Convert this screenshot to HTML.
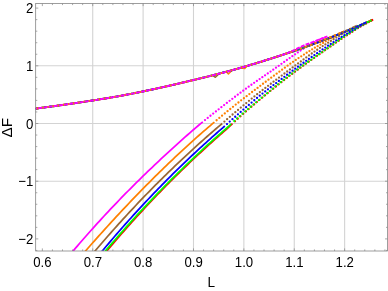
<!DOCTYPE html>
<html><head><meta charset="utf-8"><title>plot</title>
<style>html,body{margin:0;padding:0;background:#fff;overflow:hidden}body{width:388px;height:291px;position:relative;font-family:"Liberation Sans",sans-serif}svg{will-change:transform}</style></head>
<body>
<svg width="388" height="291" viewBox="0 0 388 291" style="position:absolute;left:0;top:0">
<rect width="388" height="291" fill="#fff"/>
<path d="M92.73,3.5 V251.0 M143.11,3.5 V251.0 M193.49,3.5 V251.0 M243.87,3.5 V251.0 M294.25,3.5 V251.0 M344.63,3.5 V251.0 M35.7,65.80 H387.6 M35.7,123.50 H387.6 M35.7,181.20 H387.6" stroke="#d3d3d3" stroke-width="1.1" fill="none"/>
<defs><clipPath id="c"><rect x="35.7" y="3.5" width="351.90000000000003" height="247.5"/></clipPath></defs>
<g clip-path="url(#c)" fill="none">
<path d="M98.60,260.72 L106.60,251.19 L108.73,248.65 L110.87,246.13 L113.00,243.62 L115.14,241.13 L117.27,238.65 L119.40,236.19 L121.54,233.74 L123.67,231.31 L125.81,228.89 L127.94,226.48 L130.07,224.09 L132.21,221.71 L134.34,219.35 L136.47,217.00 L138.61,214.67 L140.74,212.34 L142.88,210.04 L145.01,207.74 L147.14,205.46 L149.28,203.19 L151.41,200.94 L153.55,198.69 L155.68,196.47 L157.81,194.25 L159.95,192.05 L162.08,189.86 L164.22,187.68 L166.35,185.51 L168.48,183.36 L170.62,181.22 L172.75,179.09 L174.88,176.97 L177.02,174.87 L179.15,172.78 L181.29,170.70 L183.42,168.63 L185.55,166.57 L187.69,164.53 L189.82,162.49 L191.96,160.47 L194.09,158.46 L196.22,156.46 L198.36,154.47 L200.49,152.49 L202.63,150.52 L204.76,148.56 L206.89,146.62 L209.03,144.68 L211.16,142.76 L213.29,140.84 L215.43,138.94 L217.56,137.04 L219.70,135.16 L221.83,133.28 L223.96,131.42 L226.10,129.56 L228.23,127.70 L230.37,125.67 L232.50,123.65" stroke="#ff0000" stroke-width="1.75"/>
<path d="M235.00,121.30h0.01 M237.73,118.75h0.01 M240.46,116.29h0.01 M243.19,113.85h0.01 M245.92,111.45h0.01 M248.65,109.09h0.01 M251.38,106.74h0.01 M254.11,104.41h0.01 M256.84,102.09h0.01 M259.57,99.79h0.01 M262.30,97.53h0.01 M265.03,95.30h0.01 M267.76,93.08h0.01 M270.49,90.87h0.01 M273.22,88.67h0.01 M275.95,86.49h0.01 M278.68,84.32h0.01 M281.41,82.16h0.01 M284.14,80.01h0.01 M286.87,77.90h0.01 M289.60,75.82h0.01 M292.33,73.76h0.01 M295.06,71.70h0.01 M297.79,69.65h0.01 M300.52,67.63h0.01 M303.25,65.66h0.01 M305.98,63.70h0.01 M308.71,61.75h0.01 M311.44,59.82h0.01 M314.17,57.89h0.01 M316.90,55.97h0.01 M319.63,54.06h0.01 M322.36,52.13h0.01 M325.09,50.21h0.01 M327.82,48.30h0.01 M330.55,46.40h0.01 M333.28,44.50h0.01 M336.01,42.61h0.01 M338.74,40.73h0.01 M341.47,38.90h0.01 M344.20,37.10h0.01 M346.93,35.31h0.01 M349.66,33.52h0.01 M352.39,31.74h0.01 M355.12,29.97h0.01 M357.85,28.21h0.01 M360.58,26.50h0.01 M363.31,24.99h0.01 M366.04,23.49h0.01 M368.77,22.00h0.01 M371.50,20.51h0.01" stroke="#ff0000" stroke-width="2.3" stroke-linecap="round"/>
<path d="M97.50,260.35 L105.50,250.92 L107.63,248.42 L109.76,245.92 L111.90,243.44 L114.03,240.97 L116.16,238.52 L118.29,236.08 L120.43,233.65 L122.56,231.23 L124.69,228.83 L126.82,226.45 L128.95,224.07 L131.09,221.71 L133.22,219.36 L135.35,217.03 L137.48,214.71 L139.62,212.40 L141.75,210.10 L143.88,207.82 L146.01,205.55 L148.14,203.29 L150.28,201.04 L152.41,198.81 L154.54,196.58 L156.67,194.37 L158.81,192.18 L160.94,189.99 L163.07,187.82 L165.20,185.65 L167.33,183.50 L169.47,181.36 L171.60,179.24 L173.73,177.12 L175.86,175.02 L177.99,172.92 L180.13,170.84 L182.26,168.77 L184.39,166.71 L186.52,164.67 L188.66,162.63 L190.79,160.60 L192.92,158.59 L195.05,156.58 L197.18,154.59 L199.32,152.60 L201.45,150.63 L203.58,148.67 L205.71,146.72 L207.85,144.77 L209.98,142.84 L212.11,140.92 L214.24,139.01 L216.37,137.11 L218.51,135.22 L220.64,133.33 L222.77,131.46 L224.90,129.60 L227.04,127.75 L229.17,125.81 L231.30,123.80" stroke="#00ff00" stroke-width="1.75"/>
<path d="M234.30,121.00h0.01 M237.03,118.46h0.01 M239.76,116.03h0.01 M242.49,113.66h0.01 M245.22,111.32h0.01 M247.95,109.04h0.01 M250.68,106.77h0.01 M253.41,104.53h0.01 M256.14,102.29h0.01 M258.87,100.07h0.01 M261.60,97.81h0.01 M264.33,95.54h0.01 M267.06,93.28h0.01 M269.79,91.03h0.01 M272.52,88.80h0.01 M275.25,86.58h0.01 M277.98,84.37h0.01 M280.71,82.17h0.01 M283.44,79.99h0.01 M286.17,77.85h0.01 M288.90,75.75h0.01 M291.63,73.66h0.01 M294.36,71.59h0.01 M297.09,69.53h0.01 M299.82,67.48h0.01 M302.55,65.55h0.01 M305.28,63.64h0.01 M308.01,61.74h0.01 M310.74,59.86h0.01 M313.47,57.98h0.01 M316.20,56.11h0.01 M318.93,54.26h0.01 M321.66,52.33h0.01 M324.39,50.36h0.01 M327.12,48.39h0.01 M329.85,46.44h0.01 M332.58,44.50h0.01 M335.31,42.56h0.01 M338.04,40.64h0.01 M340.77,38.76h0.01 M343.50,36.97h0.01 M346.23,35.20h0.01 M348.96,33.43h0.01 M351.69,31.67h0.01 M354.42,29.92h0.01 M357.15,28.18h0.01 M359.88,26.44h0.01 M362.61,24.99h0.01 M365.34,23.55h0.01 M368.07,22.12h0.01 M370.80,20.70h0.01" stroke="#00ff00" stroke-width="2.3" stroke-linecap="round"/>
<path d="M94.30,260.56 L102.30,250.98 L104.38,248.49 L106.45,246.03 L108.53,243.57 L110.61,241.13 L112.68,238.70 L114.76,236.29 L116.83,233.89 L118.91,231.50 L120.99,229.13 L123.06,226.77 L125.14,224.43 L127.22,222.10 L129.29,219.78 L131.37,217.47 L133.44,215.18 L135.52,212.90 L137.60,210.63 L139.67,208.37 L141.75,206.13 L143.83,203.90 L145.90,201.69 L147.98,199.48 L150.05,197.29 L152.13,195.11 L154.21,192.95 L156.28,190.79 L158.36,188.65 L160.44,186.52 L162.51,184.40 L164.59,182.29 L166.66,180.20 L168.74,178.11 L170.82,176.04 L172.89,173.98 L174.97,171.94 L177.05,169.90 L179.12,167.87 L181.20,165.86 L183.27,163.86 L185.35,161.86 L187.43,159.88 L189.50,157.91 L191.58,155.95 L193.66,154.01 L195.73,152.07 L197.81,150.14 L199.88,148.23 L201.96,146.32 L204.04,144.43 L206.11,142.54 L208.19,140.67 L210.27,138.80 L212.34,136.95 L214.42,135.10 L216.49,133.27 L218.57,131.45 L220.65,129.63 L222.72,127.83 L224.80,126.03" stroke="#0000ff" stroke-width="1.75"/>
<path d="M227.00,124.05h0.01 M229.73,121.60h0.01 M232.46,119.17h0.01 M235.19,116.75h0.01 M237.92,114.34h0.01 M240.65,111.95h0.01 M243.38,109.58h0.01 M246.11,107.22h0.01 M248.84,104.88h0.01 M251.57,102.56h0.01 M254.30,100.24h0.01 M257.03,97.95h0.01 M259.76,95.70h0.01 M262.49,93.55h0.01 M265.22,91.42h0.01 M267.95,89.30h0.01 M270.68,87.20h0.01 M273.41,85.10h0.01 M276.14,83.03h0.01 M278.87,80.96h0.01 M281.60,78.91h0.01 M284.33,76.85h0.01 M287.06,74.77h0.01 M289.79,72.71h0.01 M292.52,70.66h0.01 M295.25,68.65h0.01 M297.98,66.67h0.01 M300.71,64.71h0.01 M303.44,62.76h0.01 M306.17,60.82h0.01 M308.90,58.89h0.01 M311.63,56.98h0.01 M314.36,55.07h0.01 M317.09,53.18h0.01 M319.82,51.29h0.01 M322.55,49.42h0.01 M325.28,47.56h0.01 M328.01,45.70h0.01 M330.74,43.88h0.01 M333.47,42.12h0.01 M336.20,40.37h0.01 M338.93,38.63h0.01 M341.66,36.90h0.01 M344.39,35.18h0.01 M347.12,33.54h0.01 M349.85,31.93h0.01 M352.58,30.33h0.01 M355.31,28.74h0.01 M358.04,27.16h0.01 M360.77,25.59h0.01 M363.50,24.02h0.01 M366.23,22.46h0.01" stroke="#0000ff" stroke-width="2.3" stroke-linecap="round"/>
<path d="M87.00,260.46 L95.00,251.03 L97.16,248.50 L99.31,245.97 L101.47,243.47 L103.62,240.97 L105.78,238.50 L107.94,236.03 L110.09,233.58 L112.25,231.14 L114.40,228.72 L116.56,226.31 L118.72,223.92 L120.87,221.54 L123.03,219.17 L125.18,216.81 L127.34,214.47 L129.49,212.14 L131.65,209.83 L133.81,207.53 L135.96,205.24 L138.12,202.96 L140.27,200.70 L142.43,198.45 L144.59,196.22 L146.74,193.99 L148.90,191.78 L151.05,189.58 L153.21,187.39 L155.37,185.22 L157.52,183.06 L159.68,180.91 L161.83,178.77 L163.99,176.64 L166.15,174.53 L168.30,172.43 L170.46,170.34 L172.61,168.26 L174.77,166.19 L176.93,164.13 L179.08,162.09 L181.24,160.06 L183.39,158.03 L185.55,156.02 L187.71,154.02 L189.86,152.03 L192.02,150.06 L194.17,148.09 L196.33,146.13 L198.48,144.19 L200.64,142.25 L202.80,140.33 L204.95,138.41 L207.11,136.51 L209.26,134.62 L211.42,132.73 L213.58,130.86 L215.73,129.00 L217.89,127.14 L220.04,125.30 L222.20,123.46" stroke="#996633" stroke-width="1.75"/>
<path d="M224.40,121.55h0.01 M227.13,119.19h0.01 M229.86,116.84h0.01 M232.59,114.51h0.01 M235.32,112.19h0.01 M238.05,109.89h0.01 M240.78,107.60h0.01 M243.51,105.33h0.01 M246.24,103.07h0.01 M248.97,100.82h0.01 M251.70,98.59h0.01 M254.43,96.38h0.01 M257.16,94.22h0.01 M259.89,92.10h0.01 M262.62,89.99h0.01 M265.35,87.89h0.01 M268.08,85.81h0.01 M270.81,83.74h0.01 M273.54,81.68h0.01 M276.27,79.64h0.01 M279.00,77.60h0.01 M281.73,75.54h0.01 M284.46,73.50h0.01 M287.19,71.48h0.01 M289.92,69.46h0.01 M292.65,67.46h0.01 M295.38,65.45h0.01 M298.11,63.42h0.01 M300.84,61.41h0.01 M303.57,59.41h0.01 M306.30,57.42h0.01 M309.03,55.44h0.01 M311.76,53.51h0.01 M314.49,51.61h0.01 M317.22,49.73h0.01 M319.95,47.86h0.01 M322.68,46.11h0.01 M325.41,44.38h0.01 M328.14,42.66h0.01 M330.87,40.95h0.01 M333.60,39.25h0.01 M336.33,37.56h0.01 M339.06,35.89h0.01 M341.79,34.22h0.01 M344.52,32.57h0.01 M347.25,31.00h0.01 M349.98,29.47h0.01 M352.71,27.94h0.01 M355.44,26.43h0.01" stroke="#996633" stroke-width="2.3" stroke-linecap="round"/>
<path d="M77.50,260.15 L85.50,251.00 L87.68,248.50 L89.87,246.02 L92.05,243.54 L94.24,241.07 L96.42,238.62 L98.61,236.17 L100.79,233.73 L102.98,231.30 L105.16,228.89 L107.35,226.48 L109.53,224.08 L111.72,221.70 L113.90,219.32 L116.09,216.96 L118.27,214.60 L120.46,212.26 L122.64,209.92 L124.83,207.60 L127.01,205.29 L129.19,202.99 L131.38,200.70 L133.56,198.41 L135.75,196.15 L137.93,193.89 L140.12,191.64 L142.30,189.40 L144.49,187.18 L146.67,184.96 L148.86,182.76 L151.04,180.57 L153.23,178.39 L155.41,176.22 L157.60,174.06 L159.78,171.91 L161.97,169.78 L164.15,167.65 L166.34,165.54 L168.52,163.44 L170.71,161.35 L172.89,159.27 L175.07,157.21 L177.26,155.15 L179.44,153.11 L181.63,151.08 L183.81,149.06 L186.00,147.06 L188.18,145.06 L190.37,143.08 L192.55,141.11 L194.74,139.15 L196.92,137.21 L199.11,135.28 L201.29,133.35 L203.48,131.45 L205.66,129.55 L207.85,127.67 L210.03,125.80 L212.22,123.94 L214.40,122.09" stroke="#ff8000" stroke-width="1.75"/>
<path d="M216.60,120.24h0.01 M219.33,117.95h0.01 M222.06,115.67h0.01 M224.79,113.42h0.01 M227.52,111.19h0.01 M230.25,108.98h0.01 M232.98,106.79h0.01 M235.71,104.62h0.01 M238.44,102.48h0.01 M241.17,100.35h0.01 M243.90,98.24h0.01 M246.63,96.15h0.01 M249.36,94.07h0.01 M252.09,92.00h0.01 M254.82,89.94h0.01 M257.55,87.88h0.01 M260.28,85.82h0.01 M263.01,83.77h0.01 M265.74,81.74h0.01 M268.47,79.71h0.01 M271.20,77.68h0.01 M273.93,75.67h0.01 M276.66,73.67h0.01 M279.39,71.69h0.01 M282.12,69.66h0.01 M284.85,67.65h0.01 M287.58,65.66h0.01 M290.31,63.72h0.01 M293.04,61.82h0.01 M295.77,59.95h0.01 M298.50,58.12h0.01 M301.23,56.31h0.01 M303.96,54.53h0.01 M306.69,52.77h0.01 M309.42,51.03h0.01 M312.15,49.31h0.01 M314.88,47.72h0.01 M317.61,46.14h0.01 M320.34,44.55h0.01 M323.07,42.96h0.01 M325.80,41.37h0.01 M328.53,39.77h0.01 M331.26,38.23h0.01 M333.99,36.76h0.01 M336.72,35.26h0.01 M339.45,33.74h0.01 M342.18,32.19h0.01" stroke="#ff8000" stroke-width="2.3" stroke-linecap="round"/>
<path d="M65.10,260.42 L73.10,250.99 L75.30,248.41 L77.50,245.84 L79.69,243.29 L81.89,240.75 L84.09,238.23 L86.29,235.73 L88.49,233.24 L90.69,230.77 L92.88,228.31 L95.08,225.87 L97.28,223.44 L99.48,221.04 L101.68,218.64 L103.88,216.26 L106.07,213.89 L108.27,211.54 L110.47,209.21 L112.67,206.88 L114.87,204.57 L117.07,202.28 L119.26,200.00 L121.46,197.73 L123.66,195.47 L125.86,193.23 L128.06,191.00 L130.26,188.79 L132.45,186.58 L134.65,184.39 L136.85,182.21 L139.05,180.04 L141.25,177.89 L143.45,175.74 L145.64,173.61 L147.84,171.49 L150.04,169.38 L152.24,167.28 L154.44,165.19 L156.64,163.11 L158.83,161.04 L161.03,158.98 L163.23,156.93 L165.43,154.89 L167.63,152.86 L169.83,150.84 L172.02,148.83 L174.22,146.83 L176.42,144.84 L178.62,142.86 L180.82,140.89 L183.02,138.92 L185.21,136.97 L187.41,135.03 L189.61,133.10 L191.81,131.18 L194.01,129.28 L196.21,127.38 L198.40,125.50 L200.60,123.65 L202.80,121.87" stroke="#ff00ff" stroke-width="1.75"/>
<path d="M205.00,120.09h0.01 M207.73,117.91h0.01 M210.46,115.75h0.01 M213.19,113.61h0.01 M215.92,111.47h0.01 M218.65,109.30h0.01 M221.38,107.15h0.01 M224.11,105.03h0.01 M226.84,102.92h0.01 M229.57,100.85h0.01 M232.30,98.79h0.01 M235.03,96.77h0.01 M237.76,94.70h0.01 M240.49,92.66h0.01 M243.22,90.64h0.01 M245.95,88.65h0.01 M248.68,86.68h0.01 M251.41,84.74h0.01 M254.14,82.81h0.01 M256.87,80.91h0.01 M259.60,79.03h0.01 M262.33,77.15h0.01 M265.06,75.28h0.01 M267.79,73.40h0.01 M270.52,71.53h0.01 M273.25,69.63h0.01 M275.98,67.72h0.01 M278.71,65.80h0.01 M281.44,63.87h0.01 M284.17,61.94h0.01 M286.90,60.01h0.01 M289.63,58.09h0.01 M292.36,56.19h0.01 M295.09,54.30h0.01 M297.82,52.42h0.01 M300.55,50.57h0.01 M303.28,48.75h0.01 M306.01,46.98h0.01 M308.74,45.26h0.01 M311.47,43.69h0.01 M314.20,42.27h0.01 M316.93,40.92h0.01 M319.66,39.64h0.01 M322.39,38.43h0.01 M325.12,37.31h0.01" stroke="#ff00ff" stroke-width="2.3" stroke-linecap="round"/>
<path d="M212.6,75.33 L215.4,77.32 L219.2,73.64" stroke="#996633" stroke-width="1.4" stroke-linejoin="round"/>
<path d="M226.2,71.80 L228.4,73.92 L232.2,70.19" stroke="#ff8000" stroke-width="1.4" stroke-linejoin="round"/>
<path d="M240.5,67.84 L244.8,68.59 L247.0,65.95" stroke="#ff8000" stroke-width="1.4" stroke-linejoin="round"/>
<path d="M28.00,109.53 L35.50,108.58 L38.34,108.22 L41.18,107.85 L44.01,107.49 L46.85,107.11 L49.69,106.73 L52.53,106.35 L55.36,105.96 L58.20,105.57 L61.04,105.17 L63.88,104.76 L66.72,104.35 L69.55,103.94 L72.39,103.52 L75.23,103.09 L78.07,102.66 L80.91,102.23 L83.74,101.82 L86.58,101.39 L89.42,100.96 L92.26,100.52 L95.09,100.08 L97.93,99.64 L100.77,99.18 L103.61,98.73 L106.45,98.26 L109.28,97.79 L112.12,97.32 L114.96,96.83 L117.80,96.35 L120.63,95.84 L123.47,95.30 L126.31,94.76 L129.15,94.21 L131.99,93.65 L134.82,93.08 L137.66,92.51 L140.50,91.94 L143.34,91.35 L146.17,90.76 L149.01,90.17 L151.85,89.56 L154.69,88.95 L157.53,88.34 L160.36,87.72 L163.20,87.09 L166.04,86.45 L168.88,85.81 L171.72,85.16 L174.55,84.51 L177.39,83.85 L180.23,83.18 L183.07,82.50 L185.90,81.82 L188.74,81.13 L191.58,80.45 L194.42,79.78 L197.26,79.11 L200.09,78.42 L202.93,77.73 L205.77,77.04 L208.61,76.33 L211.44,75.62 L214.28,74.90 L217.12,74.18 L219.96,73.44 L222.80,72.70 L225.63,71.95 L228.47,71.20 L231.31,70.43 L234.15,69.64 L236.98,68.84 L239.82,68.03 L242.66,67.21 L245.50,66.39 L248.34,65.55 L251.17,64.71 L254.01,63.86 L256.85,63.00 L259.69,62.14 L262.53,61.26 L265.36,60.38 L268.20,59.48 L271.04,58.58 L273.88,57.67 L276.71,56.75 L279.55,55.83 L282.39,54.89 L285.23,53.95 L288.07,53.00 L290.90,52.04 L293.74,51.07 L296.58,50.09 L299.42,49.10 L302.25,48.11 L305.09,47.10 L307.93,46.06 L310.77,45.02 L313.61,43.97 L316.44,42.91 L319.28,41.85 L322.12,40.77 L324.96,39.68 L327.79,38.59 L330.63,37.48 L333.47,36.37 L336.31,35.25 L339.15,34.12 L341.98,32.96 L344.82,31.79 L347.66,30.61 L350.50,29.43 L353.34,28.23 L356.17,27.02 L359.01,25.80 L361.85,24.58 L364.69,23.34 L367.52,22.10 L370.36,20.84 L373.20,19.58" stroke="#ff0000" stroke-width="1.85"/>
<path d="M28.00,109.53 L35.50,108.58 L38.32,108.22 L41.15,107.86 L43.97,107.49 L46.80,107.12 L49.62,106.74 L52.45,106.36 L55.27,105.97 L58.09,105.58 L60.92,105.18 L63.74,104.78 L66.57,104.37 L69.39,103.96 L72.22,103.54 L75.04,103.12 L77.87,102.69 L80.69,102.27 L83.51,101.85 L86.34,101.43 L89.16,101.00 L91.99,100.57 L94.81,100.13 L97.64,99.68 L100.46,99.23 L103.28,98.78 L106.11,98.32 L108.93,97.85 L111.76,97.38 L114.58,96.90 L117.41,96.41 L120.23,95.92 L123.06,95.38 L125.88,94.84 L128.70,94.29 L131.53,93.74 L134.35,93.18 L137.18,92.61 L140.00,92.04 L142.83,91.46 L145.65,90.87 L148.47,90.28 L151.30,89.68 L154.12,89.08 L156.95,88.47 L159.77,87.85 L162.60,87.22 L165.42,86.59 L168.25,85.96 L171.07,85.31 L173.89,84.66 L176.72,84.00 L179.54,83.34 L182.37,82.67 L185.19,81.99 L188.02,81.30 L190.84,80.62 L193.66,79.96 L196.49,79.29 L199.31,78.61 L202.14,77.93 L204.96,77.24 L207.79,76.54 L210.61,75.83 L213.44,75.12 L216.26,74.40 L219.08,73.67 L221.91,72.93 L224.73,72.19 L227.56,71.44 L230.38,70.68 L233.21,69.91 L236.03,69.11 L238.85,68.31 L241.68,67.50 L244.50,66.68 L247.33,65.85 L250.15,65.01 L252.98,64.17 L255.80,63.32 L258.63,62.46 L261.45,61.59 L264.27,60.72 L267.10,59.83 L269.92,58.94 L272.75,58.03 L275.57,57.12 L278.40,56.20 L281.22,55.28 L284.04,54.34 L286.87,53.40 L289.69,52.45 L292.52,51.48 L295.34,50.52 L298.17,49.54 L300.99,48.55 L303.82,47.56 L306.64,46.53 L309.46,45.50 L312.29,44.46 L315.11,43.41 L317.94,42.35 L320.76,41.29 L323.59,40.21 L326.41,39.12 L329.23,38.03 L332.06,36.93 L334.88,35.81 L337.71,34.69 L340.53,33.56 L343.36,32.40 L346.18,31.23 L349.01,30.05 L351.83,28.86 L354.65,27.67 L357.48,26.46 L360.30,25.25 L363.13,24.02 L365.95,22.79 L368.78,21.54 L371.60,20.29" stroke="#00ff00" stroke-width="1.85" stroke-dasharray="3.0 0.7" stroke-dashoffset="0.5"/>
<path d="M28.00,109.53 L35.50,108.58 L38.28,108.23 L41.06,107.87 L43.84,107.51 L46.62,107.14 L49.39,106.77 L52.17,106.40 L54.95,106.02 L57.73,105.63 L60.51,105.24 L63.29,104.85 L66.07,104.45 L68.85,104.04 L71.63,103.63 L74.41,103.22 L77.18,102.80 L79.96,102.37 L82.74,101.96 L85.52,101.55 L88.30,101.13 L91.08,100.71 L93.86,100.28 L96.64,99.84 L99.42,99.40 L102.20,98.95 L104.97,98.50 L107.75,98.05 L110.53,97.58 L113.31,97.11 L116.09,96.64 L118.87,96.16 L121.65,95.65 L124.43,95.12 L127.21,94.58 L129.99,94.04 L132.76,93.49 L135.54,92.94 L138.32,92.38 L141.10,91.81 L143.88,91.24 L146.66,90.66 L149.44,90.08 L152.22,89.49 L155.00,88.89 L157.78,88.29 L160.55,87.68 L163.33,87.06 L166.11,86.44 L168.89,85.81 L171.67,85.17 L174.45,84.53 L177.23,83.88 L180.01,83.23 L182.79,82.57 L185.57,81.90 L188.34,81.22 L191.12,80.56 L193.90,79.90 L196.68,79.24 L199.46,78.58 L202.24,77.90 L205.02,77.22 L207.80,76.53 L210.58,75.84 L213.36,75.14 L216.13,74.43 L218.91,73.71 L221.69,72.99 L224.47,72.26 L227.25,71.52 L230.03,70.78 L232.81,70.02 L235.59,69.24 L238.37,68.45 L241.15,67.65 L243.92,66.85 L246.70,66.03 L249.48,65.21 L252.26,64.39 L255.04,63.55 L257.82,62.71 L260.60,61.86 L263.38,61.00 L266.16,60.13 L268.94,59.25 L271.71,58.36 L274.49,57.47 L277.27,56.57 L280.05,55.66 L282.83,54.74 L285.61,53.82 L288.39,52.89 L291.17,51.95 L293.95,51.00 L296.73,50.04 L299.50,49.07 L302.28,48.10 L305.06,47.11 L307.84,46.10 L310.62,45.08 L313.40,44.05 L316.18,43.01 L318.96,41.97 L321.74,40.92 L324.52,39.85 L327.29,38.78 L330.07,37.70 L332.85,36.61 L335.63,35.50 L338.41,34.39 L341.19,33.26 L343.97,32.10 L346.75,30.94 L349.53,29.76 L352.31,28.57 L355.08,27.38 L357.86,26.17 L360.64,24.95 L363.42,23.72 L366.20,22.48" stroke="#0000ff" stroke-width="1.85" stroke-dasharray="3.4 0.9" stroke-dashoffset="1"/>
<path d="M28.00,109.53 L35.50,108.58 L38.20,108.24 L40.90,107.89 L43.61,107.54 L46.31,107.18 L49.01,106.82 L51.71,106.46 L54.41,106.09 L57.11,105.72 L59.82,105.34 L62.52,104.96 L65.22,104.57 L67.92,104.18 L70.62,103.78 L73.32,103.38 L76.03,102.97 L78.73,102.56 L81.43,102.16 L84.13,101.76 L86.83,101.35 L89.53,100.94 L92.24,100.53 L94.94,100.11 L97.64,99.68 L100.34,99.25 L103.04,98.82 L105.74,98.38 L108.45,97.93 L111.15,97.48 L113.85,97.02 L116.55,96.56 L119.25,96.09 L121.95,95.59 L124.66,95.08 L127.36,94.56 L130.06,94.03 L132.76,93.49 L135.46,92.96 L138.16,92.41 L140.87,91.86 L143.57,91.30 L146.27,90.74 L148.97,90.18 L151.67,89.60 L154.37,89.02 L157.08,88.44 L159.78,87.85 L162.48,87.25 L165.18,86.65 L167.88,86.04 L170.58,85.42 L173.29,84.80 L175.99,84.17 L178.69,83.54 L181.39,82.90 L184.09,82.25 L186.79,81.60 L189.50,80.94 L192.20,80.31 L194.90,79.67 L197.60,79.02 L200.30,78.37 L203.00,77.72 L205.71,77.05 L208.41,76.38 L211.11,75.71 L213.81,75.02 L216.51,74.33 L219.21,73.64 L221.92,72.93 L224.62,72.22 L227.32,71.51 L230.02,70.78 L232.72,70.04 L235.42,69.28 L238.13,68.52 L240.83,67.74 L243.53,66.96 L246.23,66.17 L248.93,65.38 L251.63,64.57 L254.34,63.76 L257.04,62.94 L259.74,62.12 L262.44,61.29 L265.14,60.45 L267.84,59.60 L270.55,58.74 L273.25,57.87 L275.95,57.00 L278.65,56.12 L281.35,55.23 L284.05,54.34 L286.76,53.44 L289.46,52.53 L292.16,51.61 L294.86,50.68 L297.56,49.75 L300.26,48.81 L302.97,47.86 L305.67,46.89 L308.37,45.90 L311.07,44.91 L313.77,43.91 L316.47,42.90 L319.18,41.87 L321.88,40.83 L324.58,39.77 L327.28,38.69 L329.98,37.60 L332.68,36.49 L335.39,35.36 L338.09,34.21 L340.79,33.04 L343.49,31.84 L346.19,30.62 L348.89,29.38 L351.60,28.13 L354.30,26.86 L357.00,25.57" stroke="#996633" stroke-width="1.85" stroke-dasharray="2.0 2.1" stroke-dashoffset="0"/>
<path d="M28.00,109.53 L35.50,108.58 L38.09,108.25 L40.68,107.92 L43.28,107.58 L45.87,107.24 L48.46,106.90 L51.05,106.55 L53.65,106.20 L56.24,105.84 L58.83,105.48 L61.42,105.11 L64.02,104.74 L66.61,104.37 L69.20,103.99 L71.79,103.61 L74.39,103.22 L76.98,102.83 L79.57,102.43 L82.16,102.05 L84.76,101.66 L87.35,101.27 L89.94,100.88 L92.53,100.48 L95.13,100.08 L97.72,99.67 L100.31,99.26 L102.90,98.84 L105.50,98.42 L108.09,97.99 L110.68,97.56 L113.27,97.12 L115.87,96.68 L118.46,96.23 L121.05,95.77 L123.64,95.27 L126.24,94.77 L128.83,94.27 L131.42,93.76 L134.01,93.25 L136.61,92.73 L139.20,92.20 L141.79,91.67 L144.38,91.14 L146.97,90.60 L149.57,90.05 L152.16,89.50 L154.75,88.94 L157.34,88.38 L159.94,87.81 L162.53,87.24 L165.12,86.66 L167.71,86.08 L170.31,85.49 L172.90,84.89 L175.49,84.29 L178.08,83.68 L180.68,83.07 L183.27,82.45 L185.86,81.83 L188.45,81.20 L191.05,80.57 L193.64,79.97 L196.23,79.35 L198.82,78.73 L201.42,78.10 L204.01,77.47 L206.60,76.83 L209.19,76.19 L211.79,75.54 L214.38,74.88 L216.97,74.22 L219.56,73.55 L222.16,72.87 L224.75,72.19 L227.34,71.50 L229.93,70.80 L232.53,70.10 L235.12,69.37 L237.71,68.63 L240.30,67.89 L242.89,67.14 L245.49,66.39 L248.08,65.63 L250.67,64.86 L253.26,64.08 L255.86,63.30 L258.45,62.51 L261.04,61.72 L263.63,60.92 L266.23,60.11 L268.82,59.29 L271.41,58.46 L274.00,57.63 L276.60,56.79 L279.19,55.94 L281.78,55.09 L284.37,54.23 L286.97,53.37 L289.56,52.49 L292.15,51.61 L294.74,50.72 L297.34,49.83 L299.93,48.92 L302.52,48.01 L305.11,47.08 L307.71,46.13 L310.30,45.16 L312.89,44.17 L315.48,43.17 L318.08,42.15 L320.67,41.12 L323.26,40.08 L325.85,39.02 L328.45,37.94 L331.04,36.85 L333.63,35.74 L336.22,34.62 L338.82,33.48 L341.41,32.32 L344.00,31.13" stroke="#ff8000" stroke-width="1.85" stroke-dasharray="2.2 3.0" stroke-dashoffset="1.7"/>
<path d="M28.00,109.53 L35.50,108.58 L37.95,108.27 L40.41,107.95 L42.86,107.64 L45.31,107.31 L47.76,106.99 L50.22,106.66 L52.67,106.33 L55.12,105.99 L57.58,105.65 L60.03,105.31 L62.48,104.96 L64.94,104.61 L67.39,104.26 L69.84,103.90 L72.29,103.53 L74.75,103.17 L77.20,102.80 L79.65,102.42 L82.11,102.06 L84.56,101.69 L87.01,101.33 L89.46,100.95 L91.92,100.58 L94.37,100.20 L96.82,99.81 L99.28,99.42 L101.73,99.03 L104.18,98.63 L106.64,98.23 L109.09,97.82 L111.54,97.41 L113.99,97.00 L116.45,96.58 L118.90,96.16 L121.35,95.71 L123.81,95.24 L126.26,94.77 L128.71,94.29 L131.16,93.81 L133.62,93.32 L136.07,92.83 L138.52,92.34 L140.98,91.84 L143.43,91.33 L145.88,90.82 L148.34,90.31 L150.79,89.79 L153.24,89.27 L155.69,88.74 L158.15,88.20 L160.60,87.67 L163.05,87.12 L165.51,86.57 L167.96,86.02 L170.41,85.46 L172.86,84.90 L175.32,84.33 L177.77,83.76 L180.22,83.18 L182.68,82.59 L185.13,82.00 L187.58,81.41 L190.04,80.81 L192.49,80.24 L194.94,79.66 L197.39,79.07 L199.85,78.48 L202.30,77.89 L204.75,77.29 L207.21,76.68 L209.66,76.07 L212.11,75.45 L214.56,74.83 L217.02,74.20 L219.47,73.57 L221.92,72.93 L224.38,72.29 L226.83,71.64 L229.28,70.98 L231.74,70.32 L234.19,69.63 L236.64,68.94 L239.09,68.24 L241.55,67.53 L244.00,66.82 L246.45,66.11 L248.91,65.38 L251.36,64.65 L253.81,63.92 L256.26,63.18 L258.72,62.43 L261.17,61.68 L263.62,60.92 L266.08,60.15 L268.53,59.38 L270.98,58.60 L273.44,57.81 L275.89,57.02 L278.34,56.22 L280.79,55.42 L283.25,54.61 L285.70,53.76 L288.15,52.78 L290.61,51.71 L293.06,50.56 L295.51,49.38 L297.96,48.18 L300.42,47.00 L302.87,45.86 L305.32,44.79 L307.78,43.82 L310.23,42.92 L312.68,42.02 L315.14,41.10 L317.59,40.18 L320.04,39.26 L322.49,38.33 L324.95,37.39 L327.40,36.44" stroke="#ff00ff" stroke-width="1.85" stroke-dasharray="4 1.2" stroke-dashoffset="0"/>
</g>
<rect x="35.7" y="3.5" width="351.90000000000003" height="247.5" fill="none" stroke="#787878" stroke-width="0.72"/>
<path d="M42.35,251.0 v-2.6 M42.35,3.5 v2.6 M52.43,251.0 v-1.6 M52.43,3.5 v1.6 M62.50,251.0 v-1.6 M62.50,3.5 v1.6 M72.58,251.0 v-1.6 M72.58,3.5 v1.6 M82.65,251.0 v-1.6 M82.65,3.5 v1.6 M92.73,251.0 v-2.6 M92.73,3.5 v2.6 M102.81,251.0 v-1.6 M102.81,3.5 v1.6 M112.88,251.0 v-1.6 M112.88,3.5 v1.6 M122.96,251.0 v-1.6 M122.96,3.5 v1.6 M133.03,251.0 v-1.6 M133.03,3.5 v1.6 M143.11,251.0 v-2.6 M143.11,3.5 v2.6 M153.19,251.0 v-1.6 M153.19,3.5 v1.6 M163.26,251.0 v-1.6 M163.26,3.5 v1.6 M173.34,251.0 v-1.6 M173.34,3.5 v1.6 M183.41,251.0 v-1.6 M183.41,3.5 v1.6 M193.49,251.0 v-2.6 M193.49,3.5 v2.6 M203.57,251.0 v-1.6 M203.57,3.5 v1.6 M213.64,251.0 v-1.6 M213.64,3.5 v1.6 M223.72,251.0 v-1.6 M223.72,3.5 v1.6 M233.79,251.0 v-1.6 M233.79,3.5 v1.6 M243.87,251.0 v-2.6 M243.87,3.5 v2.6 M253.95,251.0 v-1.6 M253.95,3.5 v1.6 M264.02,251.0 v-1.6 M264.02,3.5 v1.6 M274.10,251.0 v-1.6 M274.10,3.5 v1.6 M284.17,251.0 v-1.6 M284.17,3.5 v1.6 M294.25,251.0 v-2.6 M294.25,3.5 v2.6 M304.33,251.0 v-1.6 M304.33,3.5 v1.6 M314.40,251.0 v-1.6 M314.40,3.5 v1.6 M324.48,251.0 v-1.6 M324.48,3.5 v1.6 M334.55,251.0 v-1.6 M334.55,3.5 v1.6 M344.63,251.0 v-2.6 M344.63,3.5 v2.6 M354.71,251.0 v-1.6 M354.71,3.5 v1.6 M364.78,251.0 v-1.6 M364.78,3.5 v1.6 M374.86,251.0 v-1.6 M374.86,3.5 v1.6 M384.93,251.0 v-1.6 M384.93,3.5 v1.6 M35.7,250.44 h1.6 M387.6,250.44 h-1.6 M35.7,238.90 h2.6 M387.6,238.90 h-2.6 M35.7,227.36 h1.6 M387.6,227.36 h-1.6 M35.7,215.82 h1.6 M387.6,215.82 h-1.6 M35.7,204.28 h1.6 M387.6,204.28 h-1.6 M35.7,192.74 h1.6 M387.6,192.74 h-1.6 M35.7,181.20 h2.6 M387.6,181.20 h-2.6 M35.7,169.66 h1.6 M387.6,169.66 h-1.6 M35.7,158.12 h1.6 M387.6,158.12 h-1.6 M35.7,146.58 h1.6 M387.6,146.58 h-1.6 M35.7,135.04 h1.6 M387.6,135.04 h-1.6 M35.7,123.50 h2.6 M387.6,123.50 h-2.6 M35.7,111.96 h1.6 M387.6,111.96 h-1.6 M35.7,100.42 h1.6 M387.6,100.42 h-1.6 M35.7,88.88 h1.6 M387.6,88.88 h-1.6 M35.7,77.34 h1.6 M387.6,77.34 h-1.6 M35.7,65.80 h2.6 M387.6,65.80 h-2.6 M35.7,54.26 h1.6 M387.6,54.26 h-1.6 M35.7,42.72 h1.6 M387.6,42.72 h-1.6 M35.7,31.18 h1.6 M387.6,31.18 h-1.6 M35.7,19.64 h1.6 M387.6,19.64 h-1.6 M35.7,8.10 h2.6 M387.6,8.10 h-2.6" stroke="#858585" stroke-width="0.7" fill="none"/>
<g font-family="Liberation Sans, sans-serif" fill="#000">
<text transform="translate(42.45,267.40) scale(1,1.1)" text-anchor="middle" font-size="13.2">0.6</text>
<text transform="translate(92.83,267.40) scale(1,1.1)" text-anchor="middle" font-size="13.2">0.7</text>
<text transform="translate(143.21,267.40) scale(1,1.1)" text-anchor="middle" font-size="13.2">0.8</text>
<text transform="translate(193.59,267.40) scale(1,1.1)" text-anchor="middle" font-size="13.2">0.9</text>
<text transform="translate(243.97,267.40) scale(1,1.1)" text-anchor="middle" font-size="13.2">1.0</text>
<text transform="translate(294.35,267.40) scale(1,1.1)" text-anchor="middle" font-size="13.2">1.1</text>
<text transform="translate(344.73,267.40) scale(1,1.1)" text-anchor="middle" font-size="13.2">1.2</text>
<text transform="translate(33.30,13.20) scale(1,1.1)" text-anchor="end" font-size="13.2">2</text>
<text transform="translate(33.30,70.90) scale(1,1.1)" text-anchor="end" font-size="13.2">1</text>
<text transform="translate(33.30,128.60) scale(1,1.1)" text-anchor="end" font-size="13.2">0</text>
<text transform="translate(33.30,186.30) scale(1,1.1)" text-anchor="end" font-size="13.2">−1</text>
<text transform="translate(33.30,244.00) scale(1,1.1)" text-anchor="end" font-size="13.2">−2</text>
<text transform="translate(211.30,287.40) scale(1,1.1)" text-anchor="middle" font-size="13.6">L</text>
<text transform="translate(12.1,127.6) rotate(-90) scale(1.13,1.06)" text-anchor="middle" font-size="13.6">ΔF</text>
</g>
</svg>
</body></html>
